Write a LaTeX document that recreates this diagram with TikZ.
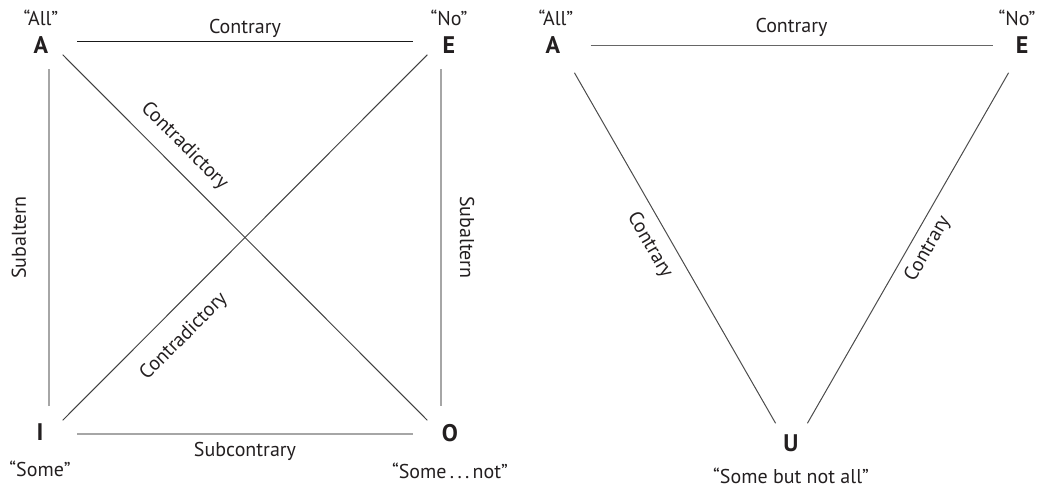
\documentclass[tikz,border=0pt]{standalone}
\usepackage{fontspec}
\setmainfont{PT Sans}
\usetikzlibrary{positioning}
\definecolor{ink}{HTML}{231F20}
\tikzstyle{letter} = [font=\fontsize{12}{12}\selectfont\bfseries, text=ink, inner sep=0pt]
\tikzstyle{quote} = [font=\fontsize{10}{12}\selectfont, text=ink, inner sep=0pt]
\tikzstyle{lbl} = [font=\fontsize{10}{12}\selectfont, text=ink, inner sep=0pt]
\tikzstyle{straight} = [line width=0.6pt, shorten <=14pt, shorten >=14pt]
\tikzstyle{cross} = [line width=0.5pt, draw=black!75, shorten <=9.7pt, shorten >=9.7pt]
\tikzstyle{side} = [line width=0.5pt, draw=black!70, shorten <=16pt, shorten >=16pt]

\begin{document}
\begin{tikzpicture}[x=0.5pt, y=-0.5pt]
    \useasboundingbox (0,0) rectangle (1043,487);
    % Corners
    \coordinate (sqA) at (49,41);
    \coordinate (sqE) at (441,41);
    \coordinate (sqI) at (49,434);
    \coordinate (sqO) at (441,434);
    \coordinate (trA) at (558.5,45);
    \coordinate (trE) at (1024.5,45);
    \coordinate (trU) at (791.5,451);
    % Letters
    \node[letter] (la) at (41,45) {A};
    \node[letter] (le) at (449,45) {E};
    \node[letter] (li) at (40,432) {I};
    \node[letter] (lo) at (450,433) {O};
    \node[letter] (ra) at (553,45) {A};
    \node[letter] (re) at (1022,45) {E};
    \node[letter] (ru) at (791,443) {U};
    % Quotes
    \node[quote, above=5pt of la] (qall) {“All”};
    \node[quote, above=5pt of le] (qno) {“No”};
    \node[quote, below=10pt of li] (qsome) {“Some”};
    \node[quote, below=10pt of lo] (qsomenot) {“Some\,.\,.\,.\,not”};
    \node[quote, above=5pt of ra, xshift=1.5pt] (rall) {“All”};
    \node[quote, above=5pt of re, xshift=-2.5pt] (rno) {“No”};
    \node[quote, below=8pt of ru] (rsome) {“Some but not all”};
    % Square
    \draw[straight, black!90, line width=0.5pt] (sqA) -- node[lbl, above=1.5pt] (contr) {Contrary} (sqE);
    \draw[straight, gray!70, line width=0.8pt] (sqI) -- node[lbl, sloped, above=11pt] (subl) {Subaltern} (sqA);
    \draw[straight, gray!70, line width=0.8pt] (sqE) -- node[lbl, sloped, above=9pt] (subr) {Subaltern} (sqO);
    \draw[straight, gray!70, line width=0.8pt] (sqI) -- node[lbl, below=3.75pt] (subc) {Subcontrary} (sqO);
    \draw[cross] (sqA) -- node[lbl, sloped, pos=0.306, above=6pt] (cdao) {Contradictory} (sqO);
    \draw[cross] (sqI) -- node[lbl, sloped, pos=0.296, below=8.5pt] (cdie) {Contradictory} (sqE);
    % Triangle
    \draw[side, black!60] (trA) -- node[lbl, above=4pt] (tcon) {Contrary} (trE);
    \draw[side] (trA) -- node[lbl, sloped, pos=0.468, below=5.5pt] (tcau) {Contrary} (trU);
    \draw[side] (trU) -- node[lbl, sloped, pos=0.52, below=4pt] (tceu) {Contrary} (trE);
\end{tikzpicture}
\end{document}
